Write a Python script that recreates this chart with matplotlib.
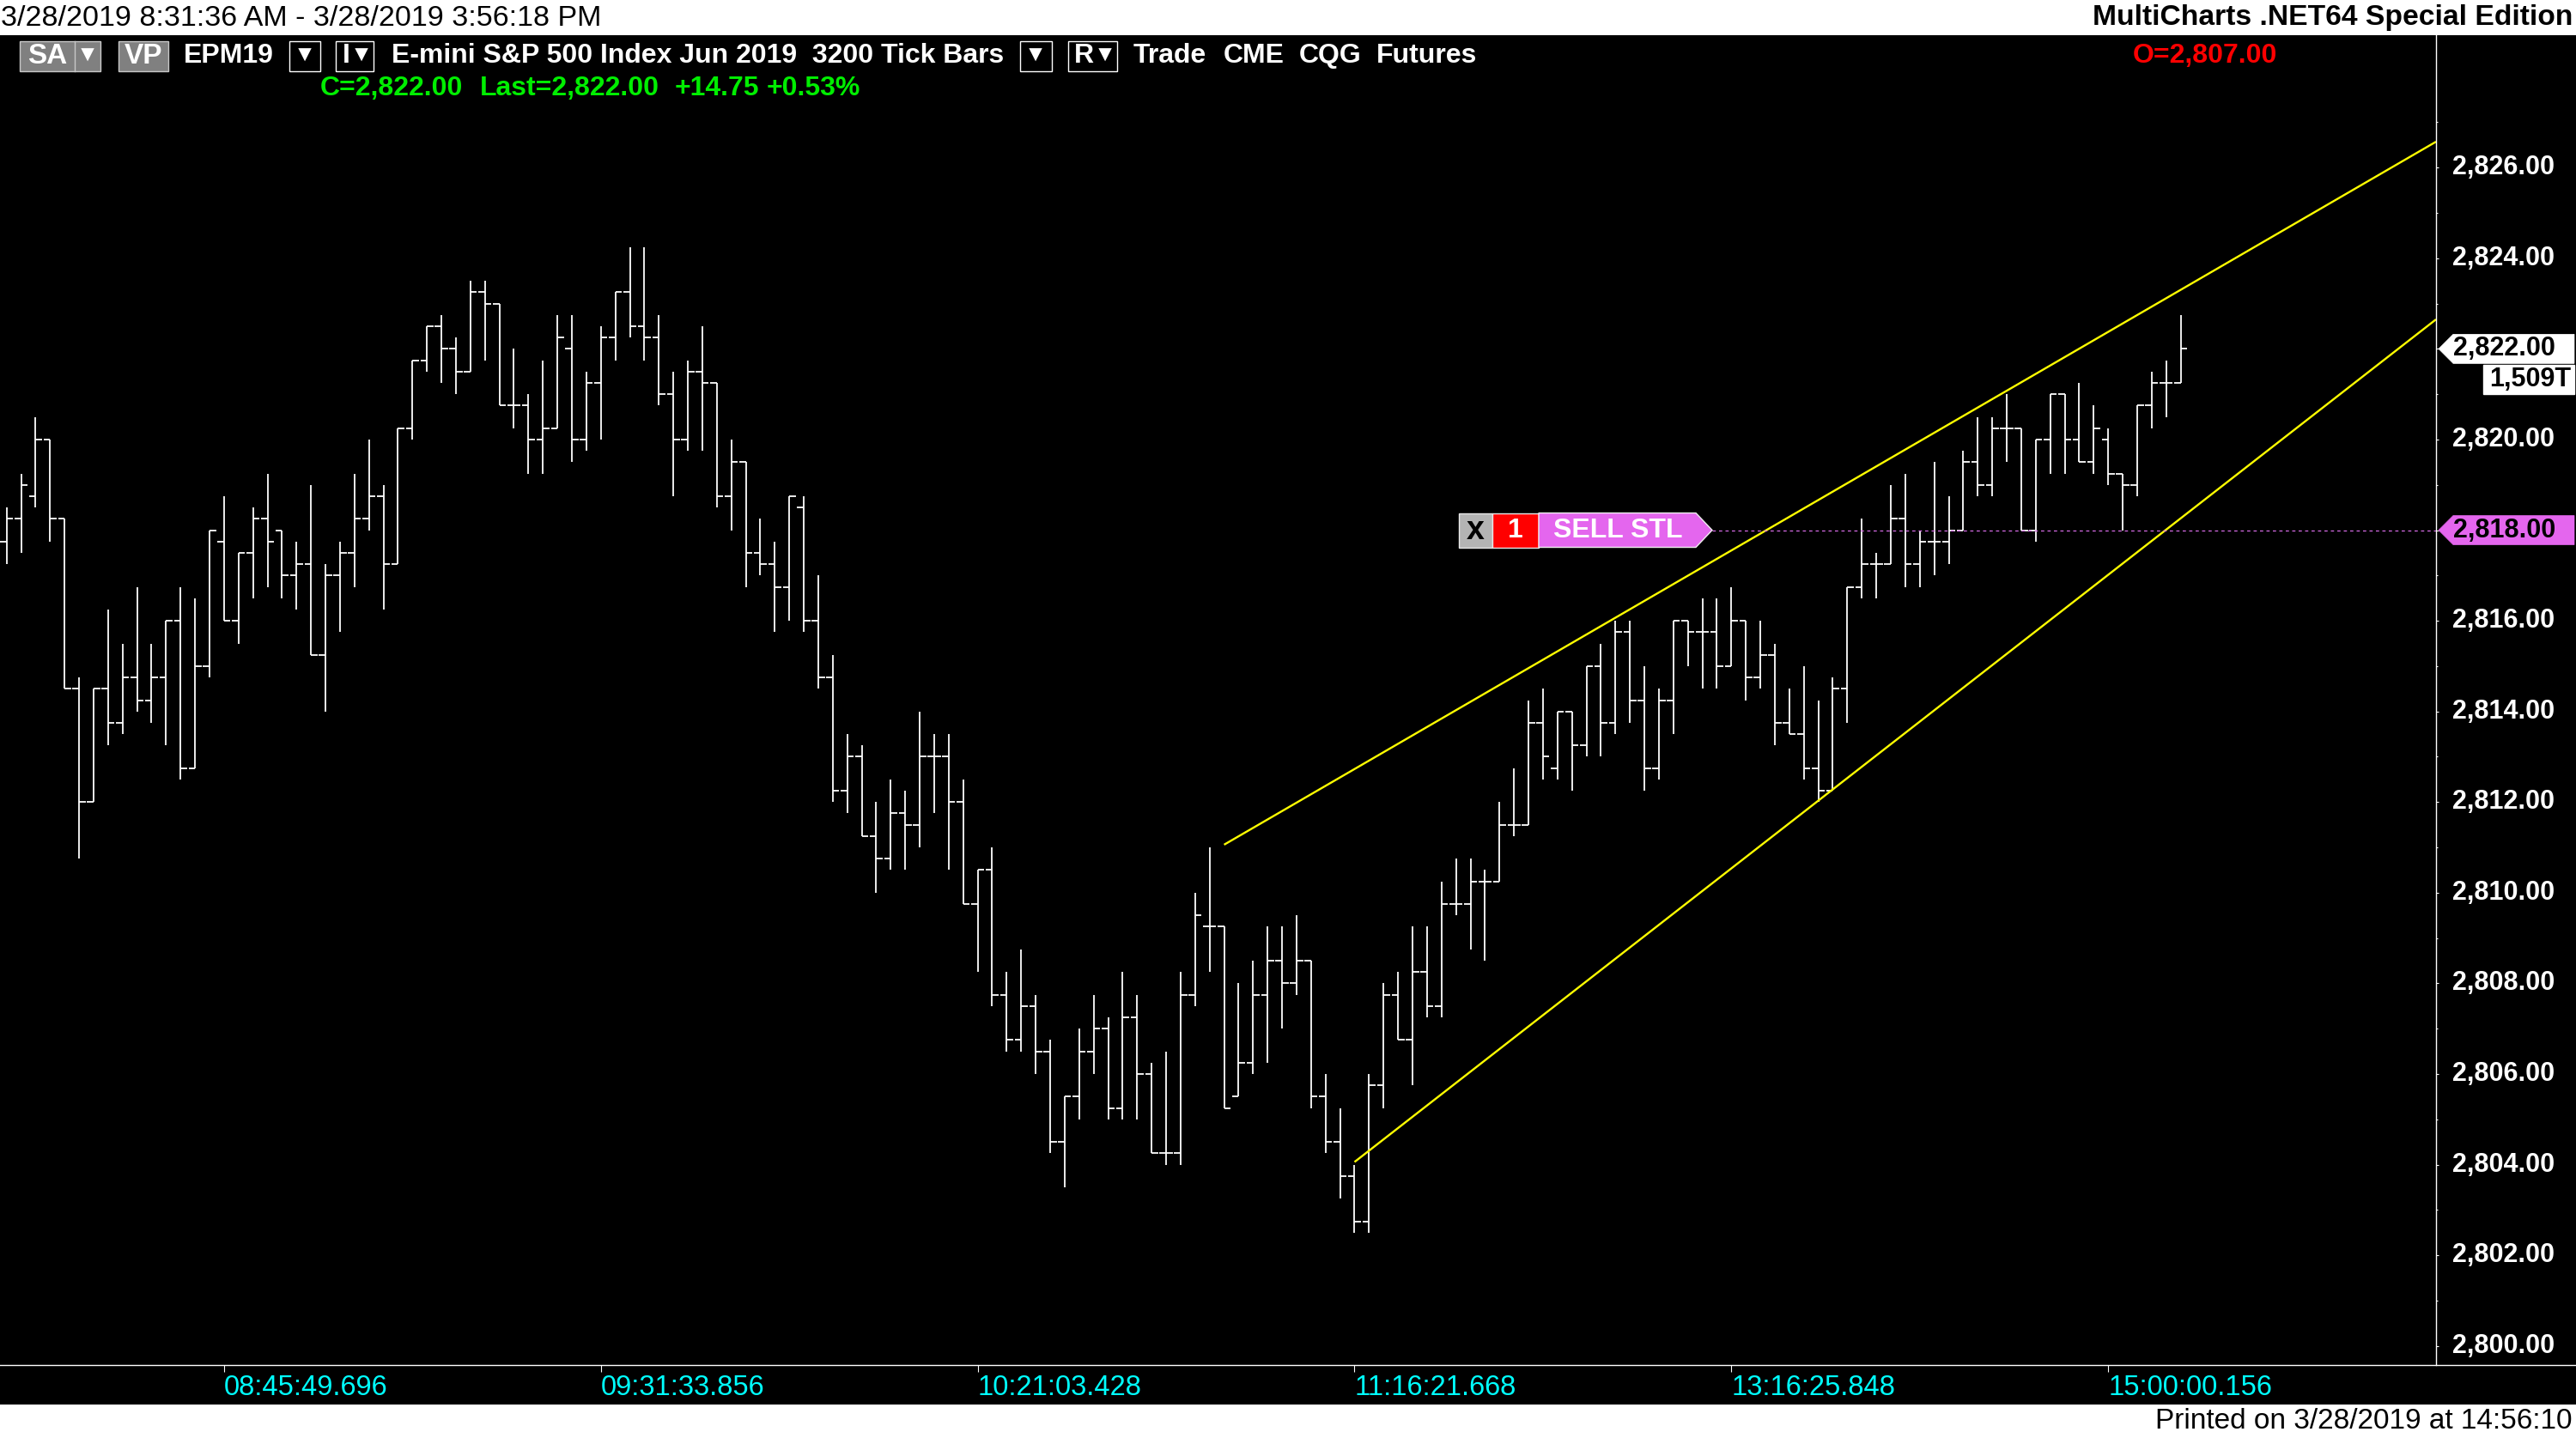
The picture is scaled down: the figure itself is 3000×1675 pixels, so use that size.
import matplotlib
matplotlib.use("Agg")
import matplotlib.pyplot as plt
from matplotlib.patches import Rectangle, Polygon
from matplotlib.ticker import FuncFormatter

plt.rcParams['font.family'] = ['Liberation Sans', 'DejaVu Sans']

# ---------------- data ----------------
opens = [2817.75, 2818.25, 2818.75, 2820.0, 2818.25, 2814.5, 2812.0, 2814.5, 2813.75, 2814.75,
         2814.25, 2814.75, 2816.0, 2812.75, 2815.0, 2817.75, 2816.0, 2817.5, 2818.25, 2818.0,
         2817.0, 2817.25, 2815.25, 2817.0, 2817.5, 2818.25, 2818.75, 2817.25, 2820.25, 2821.75,
         2822.5, 2822.0, 2821.5, 2823.25, 2823.0, 2820.75, 2820.75, 2820.0, 2820.25, 2822.0,
         2820.0, 2821.25, 2822.25, 2823.25, 2822.5, 2822.25, 2821.0, 2820.0, 2821.5, 2821.25,
         2818.75, 2819.5, 2817.5, 2817.25, 2816.75, 2818.5, 2816.0, 2814.75, 2812.25, 2813.0,
         2811.25, 2810.75, 2811.75, 2811.5, 2813.0, 2813.0, 2812.0, 2809.75, 2810.5, 2807.75,
         2806.75, 2807.5, 2806.5, 2804.5, 2805.5, 2806.5, 2807.0, 2805.25, 2807.25, 2806.0,
         2804.25, 2804.25, 2807.75, 2809.25, 2809.25, 2805.5, 2806.25, 2807.75, 2808.5, 2808.0,
         2808.5, 2805.5, 2804.5, 2803.75, 2802.75, 2805.75, 2807.75, 2806.75, 2808.25, 2807.5,
         2809.75, 2809.75, 2810.25, 2810.25, 2811.5, 2811.5, 2813.75, 2812.75, 2814.0, 2813.25,
         2815.0, 2813.75, 2815.75, 2814.25, 2812.75, 2814.25, 2816.0, 2815.75, 2815.75, 2815.0,
         2816.0, 2814.75, 2815.25, 2813.75, 2813.5, 2812.75, 2812.25, 2814.5, 2816.75, 2817.25,
         2817.25, 2818.25, 2817.25, 2817.75, 2817.75, 2818.0, 2819.5, 2819.0, 2820.25, 2820.25,
         2818.0, 2820.0, 2821.0, 2820.0, 2819.5, 2820.0, 2819.25, 2819.0, 2820.75, 2821.25,
         2821.25]
highs = [2818.5, 2819.25, 2820.5, 2820.0, 2818.25, 2814.75, 2814.5, 2816.25, 2815.5, 2816.75,
         2815.5, 2816.0, 2816.75, 2816.5, 2818.0, 2818.75, 2817.5, 2818.5, 2819.25, 2818.0,
         2817.75, 2819.0, 2817.25, 2817.75, 2819.25, 2820.0, 2819.0, 2820.25, 2821.75, 2822.5,
         2822.75, 2822.25, 2823.5, 2823.5, 2823.0, 2822.0, 2821.0, 2821.75, 2822.75, 2822.75,
         2821.5, 2822.5, 2823.25, 2824.25, 2824.25, 2822.75, 2821.5, 2821.75, 2822.5, 2821.25,
         2820.0, 2819.5, 2818.25, 2817.75, 2818.75, 2818.75, 2817.0, 2815.25, 2813.5, 2813.25,
         2812.0, 2812.5, 2812.25, 2814.0, 2813.5, 2813.5, 2812.5, 2810.5, 2811.0, 2808.25,
         2808.75, 2807.75, 2806.75, 2805.5, 2807.0, 2807.75, 2807.25, 2808.25, 2807.75, 2806.25,
         2806.5, 2808.25, 2810.0, 2811.0, 2809.25, 2808.0, 2808.5, 2809.25, 2809.25, 2809.5,
         2808.5, 2806.0, 2805.25, 2804.0, 2806.0, 2808.0, 2808.25, 2809.25, 2809.25, 2810.25,
         2810.75, 2810.75, 2810.5, 2812.0, 2812.75, 2814.25, 2814.5, 2814.0, 2814.0, 2815.0,
         2815.5, 2816.0, 2816.0, 2815.0, 2814.5, 2816.0, 2816.0, 2816.5, 2816.5, 2816.75,
         2816.0, 2816.0, 2815.5, 2814.5, 2815.0, 2814.25, 2814.75, 2816.75, 2818.25, 2817.5,
         2819.0, 2819.25, 2818.0, 2819.5, 2818.75, 2819.75, 2820.5, 2820.5, 2821.0, 2820.25,
         2820.0, 2821.0, 2821.0, 2821.25, 2820.75, 2820.25, 2819.25, 2820.75, 2821.5, 2821.75,
         2822.75]
lows = [2817.25, 2817.5, 2818.5, 2817.75, 2814.5, 2810.75, 2812.0, 2813.25, 2813.5, 2814.0,
        2813.75, 2813.25, 2812.5, 2812.75, 2814.75, 2816.0, 2815.5, 2816.5, 2816.75, 2816.5,
        2816.25, 2815.25, 2814.0, 2815.75, 2816.75, 2818.0, 2816.25, 2817.25, 2820.0, 2821.5,
        2821.25, 2821.0, 2821.5, 2821.75, 2820.75, 2820.25, 2819.25, 2819.25, 2820.25, 2819.5,
        2819.75, 2820.0, 2821.75, 2822.25, 2821.75, 2820.75, 2818.75, 2819.75, 2819.75, 2818.5,
        2818.0, 2816.75, 2817.0, 2815.75, 2816.0, 2815.75, 2814.5, 2812.0, 2811.75, 2811.25,
        2810.0, 2810.5, 2810.5, 2811.0, 2811.75, 2810.5, 2809.75, 2808.25, 2807.5, 2806.5,
        2806.5, 2806.0, 2804.25, 2803.5, 2805.0, 2806.0, 2805.0, 2805.0, 2805.0, 2804.25,
        2804.0, 2804.0, 2807.5, 2808.25, 2805.25, 2805.5, 2806.0, 2806.25, 2807.0, 2807.75,
        2805.25, 2804.25, 2803.25, 2802.5, 2802.5, 2805.25, 2806.75, 2805.75, 2807.25, 2807.25,
        2809.5, 2808.75, 2808.5, 2810.25, 2811.25, 2811.5, 2812.5, 2812.5, 2812.25, 2813.0,
        2813.0, 2813.5, 2813.75, 2812.25, 2812.5, 2813.5, 2815.0, 2814.5, 2814.5, 2815.0,
        2814.25, 2814.5, 2813.25, 2813.5, 2812.5, 2812.0, 2812.25, 2813.75, 2816.5, 2816.5,
        2817.25, 2816.75, 2816.75, 2817.0, 2817.25, 2818.0, 2818.75, 2818.75, 2819.5, 2818.0,
        2817.75, 2819.25, 2819.25, 2819.5, 2819.25, 2819.0, 2818.0, 2818.75, 2820.25, 2820.5,
        2821.25]
closes = [2818.25, 2819.0, 2820.0, 2818.25, 2814.5, 2812.0, 2814.5, 2813.75, 2814.75, 2814.25,
          2814.75, 2816.0, 2812.75, 2815.0, 2818.0, 2816.0, 2817.5, 2818.25, 2817.75, 2817.0,
          2817.25, 2815.25, 2817.0, 2817.5, 2818.25, 2818.75, 2817.25, 2820.25, 2821.75, 2822.5,
          2822.0, 2821.5, 2823.25, 2823.0, 2820.75, 2820.75, 2820.0, 2820.25, 2822.25, 2820.0,
          2821.25, 2822.25, 2823.25, 2822.5, 2822.25, 2821.0, 2820.0, 2821.5, 2821.25, 2818.75,
          2819.5, 2817.5, 2817.25, 2816.75, 2818.75, 2816.0, 2814.75, 2812.25, 2813.0, 2811.25,
          2810.75, 2811.75, 2811.5, 2813.0, 2813.0, 2812.0, 2809.75, 2810.5, 2807.75, 2806.75,
          2807.5, 2806.5, 2804.5, 2805.5, 2806.5, 2807.0, 2805.25, 2807.25, 2806.0, 2804.25,
          2804.25, 2807.75, 2809.5, 2809.25, 2805.25, 2806.25, 2807.75, 2808.5, 2808.0, 2808.5,
          2805.5, 2804.5, 2803.75, 2802.75, 2805.75, 2807.75, 2806.75, 2808.25, 2807.5, 2809.75,
          2809.75, 2810.25, 2810.25, 2811.5, 2811.5, 2813.75, 2813.0, 2814.0, 2813.25, 2815.0,
          2813.75, 2815.75, 2814.25, 2812.75, 2814.25, 2816.0, 2815.75, 2815.75, 2815.0, 2816.0,
          2814.75, 2815.25, 2813.75, 2813.5, 2812.75, 2812.25, 2814.5, 2816.75, 2817.25, 2817.25,
          2818.25, 2817.25, 2817.75, 2817.75, 2818.0, 2819.5, 2819.0, 2820.25, 2820.25, 2818.0,
          2820.0, 2821.0, 2820.0, 2819.5, 2820.25, 2819.25, 2819.0, 2820.75, 2821.25, 2821.25,
          2822.0]

time_tick_bars = [15, 41, 67, 93, 119, 145]
time_tick_labels = ['08:45:49.696', '09:31:33.856', '10:21:03.428',
                    '11:16:21.668', '13:16:25.848', '15:00:00.156']
price_major = list(range(2800, 2827, 2))
price_minor = list(range(2801, 2828, 2))

upper_trend_x = [84, 167.62]
upper_trend_y = [2811.06, 2826.57]
lower_trend_x = [93, 167.62]
lower_trend_y = [2804.06, 2822.65]

order_price = 2818.00
last_price = 2822.00
last_volume = '1,509T'

# ---------------- figure ----------------
W, H = 3000, 1675
fig = plt.figure(figsize=(W / 100, H / 100), dpi=100, facecolor='white')

bg = fig.add_axes([0, 0, 1, 1], zorder=0)
bg.set_xlim(0, W); bg.set_ylim(H, 0); bg.axis('off')
bg.add_patch(Rectangle((0, 41), W, 1636 - 41, facecolor='black', edgecolor='none'))

PL, PR, PT, PB = 0, 2837, 41, 1590
ax = fig.add_axes([PL / W, 1 - PB / H, (PR - PL) / W, (PB - PT) / H], zorder=1)
ax.set_facecolor('black')
ax.set_xlim(-0.456, 167.62)
ax.set_ylim(2799.58, 2828.92)

idx = list(range(len(opens)))
half = 0.45
lw_bar = 1.3
ax.vlines(idx, lows, highs, color='white', lw=lw_bar)
ax.hlines(opens, [i - half for i in idx], idx, color='white', lw=lw_bar)
ax.hlines(closes, idx, [i + half for i in idx], color='white', lw=lw_bar)

ax.plot(upper_trend_x, upper_trend_y, color='#ffff00', lw=1.7, solid_capstyle='butt')
ax.plot(lower_trend_x, lower_trend_y, color='#ffff00', lw=1.7, solid_capstyle='butt')

# order line from label tip
tip_px = 1994
tip_x = ax.transData.inverted().transform((tip_px, 0))[0]
ax.hlines(order_price, tip_x, 167.62, colors='#d56be4', linestyles=(0, (3, 3)), lw=0.9)

# axes
for s in ['left', 'top', 'bottom']:
    ax.spines[s].set_visible(False)
ax.spines['right'].set_color('white')
ax.spines['right'].set_linewidth(1.0)

ax.yaxis.tick_right()
ax.set_yticks(price_major)
ax.set_yticks(price_minor, minor=True)
ax.yaxis.set_major_formatter(FuncFormatter(lambda v, p: f'{v:,.2f}'))
ax.tick_params(axis='y', which='major', direction='out', length=2.5, width=0.8,
               color='white', pad=11, labelsize=22, labelcolor='white')
ax.tick_params(axis='y', which='minor', direction='out', length=1.3, width=0.8, color='white')
for lab in ax.get_yticklabels():
    lab.set_fontweight('bold')
    lab.set_verticalalignment('center')

ax.set_xticks(time_tick_bars)
ax.set_xticklabels(time_tick_labels)
ax.tick_params(axis='x', direction='out', length=5.8, width=0.8, color='white',
               labelcolor='#00ffff', labelsize=23.5, pad=2)
for lab in ax.get_xticklabels():
    lab.set_horizontalalignment('left')

# ---------------- overlay ----------------
fg = fig.add_axes([0, 0, 1, 1], zorder=2)
fg.set_xlim(0, W); fg.set_ylim(H, 0); fg.axis('off')
fg.patch.set_alpha(0)


def py(p):
    return H - ax.transData.transform((0, p))[1]


fg.plot([0, W], [PB, PB], color='white', lw=1.0)

# header
fg.text(1, 21, '3/28/2019 8:31:36 AM - 3/28/2019 3:56:18 PM', color='black',
        fontsize=24.5, va='center', ha='left')
fg.text(2996, 21, 'MultiCharts .NET64 Special Edition', color='black',
        fontsize=24.2, fontweight='bold', va='center', ha='right')
fg.text(2996, 1655, 'Printed on 3/28/2019 at 14:56:10', color='black',
        fontsize=24, va='center', ha='right')

# toolbar
ty = 65
bh = 35


def box(x0, x1, fill, edge):
    fg.add_patch(Rectangle((x0, ty - bh / 2), x1 - x0, bh, facecolor=fill,
                           edgecolor=edge, lw=1.0))


def t(x, s, color='white', size=23, ha='left', weight='bold', y=ty):
    fg.text(x, y, s, color=color, fontsize=size, fontweight=weight, va='center', ha=ha)


tri = 19
box(23, 117, '#808080', '#c8c8c8')
fg.plot([87, 87], [ty - bh / 2, ty + bh / 2], color='#c8c8c8', lw=1.0)
t(55, 'SA', ha='center', size=24)
t(102, '▼', ha='center', size=tri, weight='normal')
box(138, 196, '#808080', '#c8c8c8')
t(167, 'VP', ha='center', size=24)
t(214, 'EPM19')
box(337, 373, 'black', 'white')
t(355, '▼', ha='center', size=tri, weight='normal')
box(391, 435, 'black', 'white')
t(403, 'I', ha='center')
t(421, '▼', ha='center', size=tri, weight='normal')
t(456, 'E-mini S&P 500 Index Jun 2019  3200 Tick Bars')
box(1188, 1225, 'black', 'white')
t(1206, '▼', ha='center', size=tri, weight='normal')
box(1244, 1301, 'black', 'white')
t(1262, 'R', ha='center')
t(1287, '▼', ha='center', size=tri, weight='normal')
t(1320, 'Trade')
t(1425, 'CME')
t(1513, 'CQG')
t(1603, 'Futures')
t(2484, 'O=2,807.00', color='#ff0000')

gy = 103
t(373, 'C=2,822.00', color='#00ee00', y=gy)
t(559, 'Last=2,822.00', color='#00ee00', y=gy)
t(786, '+14.75', color='#00ee00', y=gy)
t(893, '+0.53%', color='#00ee00', y=gy)

# order label (SELL STL)
oy = py(order_price)
oh = 40
fg.add_patch(Rectangle((1699, oy - oh / 2), 39, oh, facecolor='#b4b4b4', edgecolor='#e8e8e8', lw=1))
fg.text(1718.5, oy, 'x', color='black', fontsize=27, fontweight='bold', va='center', ha='center')
fg.add_patch(Rectangle((1738, oy - oh / 2), 54, oh, facecolor='#ff0000', edgecolor='#e8e8e8', lw=1))
fg.text(1765, oy, '1', color='white', fontsize=23, fontweight='bold', va='center', ha='center')
fg.add_patch(Polygon([(1792, oy - oh / 2), (1975, oy - oh / 2), (tip_px, oy),
                      (1975, oy + oh / 2), (1792, oy + oh / 2)], closed=True,
                     facecolor='#e466ee', edgecolor='#f0f0f0', lw=1))
fg.text(1809, oy, 'SELL STL', color='white', fontsize=23, fontweight='bold',
        va='center', ha='left')


# price-axis markers
def arrow_label(yc, fill, text, tcolor):
    hh = 17
    fg.add_patch(Polygon([(2840, yc), (2857, yc - hh), (2998, yc - hh), (2998, yc + hh),
                          (2857, yc + hh)], closed=True, facecolor=fill, edgecolor=fill, lw=0.5))
    fg.text(2857, yc, text, color=tcolor, fontsize=22, fontweight='bold', va='center', ha='left')


ly = py(last_price)
arrow_label(ly, 'white', f'{last_price:,.2f}', 'black')
fg.add_patch(Rectangle((2892, ly + 19), 106, 34, facecolor='white', edgecolor='white'))
fg.text(2994, ly + 36, last_volume, color='black', fontsize=22, fontweight='bold',
        va='center', ha='right')
arrow_label(oy, '#e466ee', f'{order_price:,.2f}', 'black')

fig.savefig('out.png', dpi=100, facecolor='white')
